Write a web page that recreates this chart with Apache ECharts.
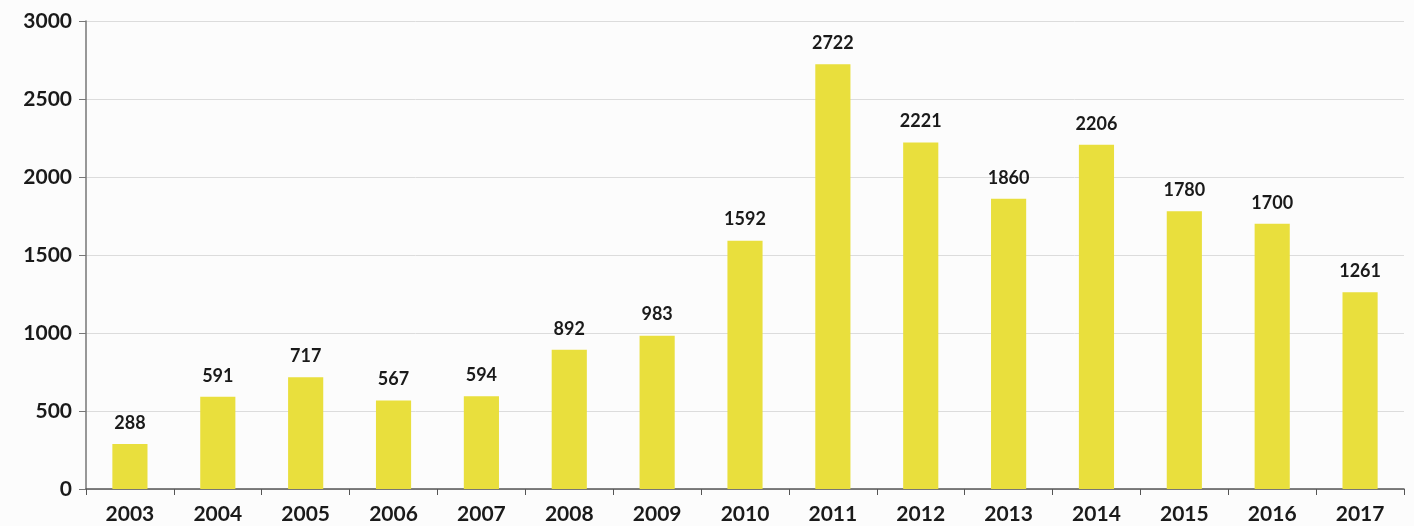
<!DOCTYPE html>
<html><head><meta charset="utf-8">
<script src="https://cdn.jsdelivr.net/npm/echarts@6/dist/echarts.min.js"></script>
<style>html,body{margin:0;padding:0;background:#fcfcfc}#c{width:1414px;height:526px}</style>
</head><body><div id="c"></div>
<script>
const years = ['2003','2004','2005','2006','2007','2008','2009','2010','2011','2012','2013','2014','2015','2016','2017'];
const values = [288,591,717,567,594,892,983,1592,2722,2221,1860,2206,1780,1700,1261];
const yTicks = [0,500,1000,1500,2000,2500,3000];
const chart = echarts.init(document.getElementById('c'));
const font = 'Lato, "Open Sans", sans-serif';
chart.setOption({
  backgroundColor:'#fcfcfc',
  animation:false,
  grid:{left:86,right:10,top:21,bottom:37},
  xAxis:{type:'category',data:years,
    axisLine:{lineStyle:{color:'#555',width:1.5}},
    axisTick:{show:true,length:6,lineStyle:{color:'#555'}},
    axisLabel:{color:'#1a1a1a',fontSize:21,fontWeight:'bold',fontFamily:font,margin:15}},
  yAxis:{type:'value',min:yTicks[0],max:yTicks[yTicks.length-1],interval:500,
    axisLine:{show:true,lineStyle:{color:'#777',width:1.5}},
    axisTick:{show:true,length:7,lineStyle:{color:'#777'}},
    splitLine:{lineStyle:{color:'#dcdcdc'}},
    axisLabel:{color:'#1a1a1a',fontSize:21,fontWeight:'bold',fontFamily:font,margin:14,formatter:v=>String(v)}},
  series:[{type:'bar',data:values,barWidth:'40%',
    itemStyle:{color:'#e9df3d'},
    label:{show:true,position:'top',distance:12,color:'#1a1a1a',fontSize:18,fontWeight:'bold',fontFamily:font}}]
});
</script></body></html>
